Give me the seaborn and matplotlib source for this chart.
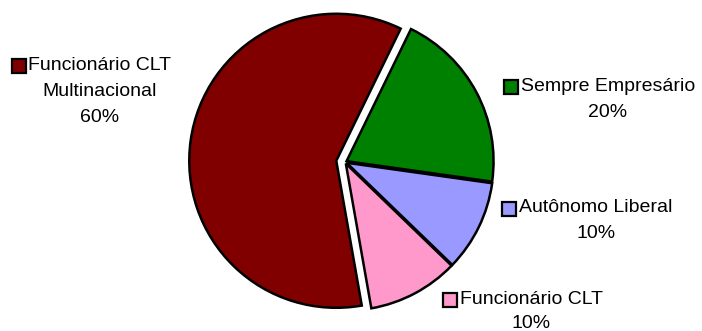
import matplotlib
matplotlib.use("Agg")
import matplotlib.pyplot as plt
import seaborn as sns
from matplotlib.lines import Line2D

categories = ["Sempre Empresário", "Autônomo Liberal", "Funcionário CLT", "Funcionário CLT\nMultinacional"]
values = [20, 10, 10, 60]
pct_labels = ["20%", "10%", "10%", "60%"]
colors = ["#008000", "#9999FF", "#FF99CC", "#800000"]
explode = [0.012, 0.012, 0.012, 0.06]

sns.set_theme(style="white")
plt.rcParams['font.family'] = ['Liberation Sans', 'DejaVu Sans']

W, H = 702, 331
fig = plt.figure(figsize=(W / 100, H / 100), dpi=100)
ax = fig.add_axes([0, 0, 1, 1])
ax.axis("off")

ax.pie(values, colors=colors, explode=explode, startangle=64, counterclock=False,
       wedgeprops=dict(edgecolor="black", linewidth=1.8), radius=1.0)

# pie center at pixel (345,162), radius 147 px
cx, cy, r = 345, 162, 147
ax.set_xlim(-cx / r, (W - cx) / r)
ax.set_ylim(-(H - cy) / r, cy / r)
ax.set_aspect("equal")

# label layout (pixel positions of text line centers)
label_pos = [
    (608, [86, 112]),
    (596, [208, 233]),
    (531, [299, 323]),
    (100, [65, 92, 117]),
]

fs = 14
renderer = fig.canvas.get_renderer()
for cat, pct, col, (px, ys) in zip(categories, pct_labels, colors, label_pos):
    lines = cat.split("\n") + [pct]
    first = None
    for ln, py in zip(lines, ys):
        t = fig.text(px / W, 1 - py / H, ln, ha="center", va="center", fontsize=fs, color="black")
        if first is None:
            first = t
    bb = first.get_window_extent(renderer=renderer)
    sx = bb.x0 - 10
    sy = (bb.y0 + bb.y1) / 2 - 1
    fig.add_artist(Line2D([sx / W], [sy / H], marker="s", markersize=9.5, markerfacecolor=col,
                          markeredgecolor="black", markeredgewidth=1.6, linestyle="none",
                          transform=fig.transFigure))

fig.savefig("out.png", dpi=100)
